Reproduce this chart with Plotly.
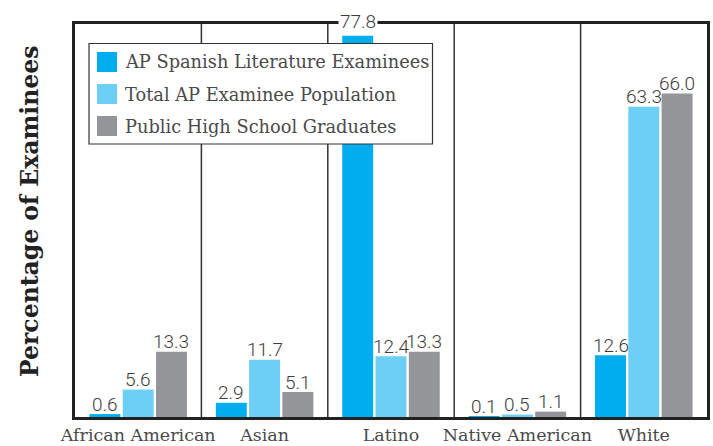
import plotly.graph_objects as go

categories = ["African American", "Asian", "Latino", "Native American", "White"]
series_names = ["AP Spanish Literature Examinees", "Total AP Examinee Population",
                "Public High School Graduates"]
ap_spanish = [0.6, 2.9, 77.8, 0.1, 12.6]
total_ap = [5.6, 11.7, 12.4, 0.5, 63.3]
hs_grads = [13.3, 5.1, 13.3, 1.1, 66.0]
series_values = [ap_spanish, total_ap, hs_grads]
colors = ["#00AEEF", "#6DCFF6", "#939598"]

W, H = 713, 446
ML, MR, MT, MB = 75, 6, 24, 29
PW, PH = W - ML - MR, H - MT - MB
YMAX = 80.2

def px_x(x):
    return (x - ML) / PW

def px_y(y):
    return (H - MB - y) / PH

fig = go.Figure()
for name, vals, col in zip(series_names, series_values, colors):
    fig.add_trace(go.Bar(x=categories, y=vals, name=name, marker_color=col,
                         marker_line_width=0, showlegend=False))

cat_w = PW / len(categories)
group_w = cat_w * (1 - 0.21)
slot = group_w / 3
annotations = []
for i, vals in enumerate(series_values):
    off = (i - 1) * slot
    for c, v in zip(categories, vals):
        top_px = PH * v / YMAX
        near_top = top_px > PH - 22
        annotations.append(dict(
            x=c, y=v, xref="x", yref="y", text=f"{v:.1f}", showarrow=False,
            xshift=off, yshift=14 if near_top else 10, yanchor="middle",
            font=dict(family="Roboto", weight=300, size=19, color="#3d3d3d"),
            bgcolor="white" if near_top else "rgba(0,0,0,0)", borderpad=1))

# y-axis title
annotations.append(dict(x=px_x(30), y=px_y(211), xref="paper", yref="paper",
                        text="Percentage of Examinees", textangle=-90, showarrow=False,
                        font=dict(family="DejaVu Serif", weight="bold", size=23.5,
                                  color="#222222"),
                        xanchor="center", yanchor="middle"))

shapes = []
# category dividers
for k in range(1, len(categories)):
    shapes.append(dict(type="line", xref="x", yref="paper", x0=k - 0.5, x1=k - 0.5,
                       y0=0, y1=1, line=dict(color="#333333", width=1.5), layer="below"))

# manual legend
shapes.append(dict(type="rect", xref="paper", yref="paper",
                   x0=px_x(89), x1=px_x(432.5), y0=px_y(144), y1=px_y(43.5),
                   fillcolor="white", line=dict(color="#333333", width=1.2), layer="above"))
for j, (name, col) in enumerate(zip(series_names, colors)):
    cy = 62 + 32 * j
    shapes.append(dict(type="rect", xref="paper", yref="paper",
                       x0=px_x(97), x1=px_x(117), y0=px_y(cy + 10), y1=px_y(cy - 10),
                       fillcolor=col, line=dict(width=0), layer="above"))
    annotations.append(dict(x=px_x(123), y=px_y(cy), xref="paper", yref="paper",
                            text=name, showarrow=False, xanchor="left", yanchor="middle",
                            font=dict(family="DejaVu Serif", size=17.8, color="#4a4a4a")))

fig.update_layout(
    width=W, height=H,
    margin=dict(l=ML, r=MR, t=MT, b=MB, autoexpand=False),
    paper_bgcolor="white", plot_bgcolor="white",
    barmode="group", bargap=0.21, bargroupgap=0.07,
    showlegend=False,
    shapes=shapes, annotations=annotations,
    xaxis=dict(showline=True, mirror=True, linecolor="#222222", linewidth=3,
               ticks="", showgrid=False, ticklabelstandoff=0, automargin=False,
               tickfont=dict(family="DejaVu Serif", size=17.5, color="#4a4a4a")),
    yaxis=dict(range=[0, YMAX], showline=True, mirror=True, linecolor="#222222",
               linewidth=3, showgrid=False, showticklabels=False, ticks="",
               zeroline=False, automargin=False),
)

fig.write_html("out.html")
